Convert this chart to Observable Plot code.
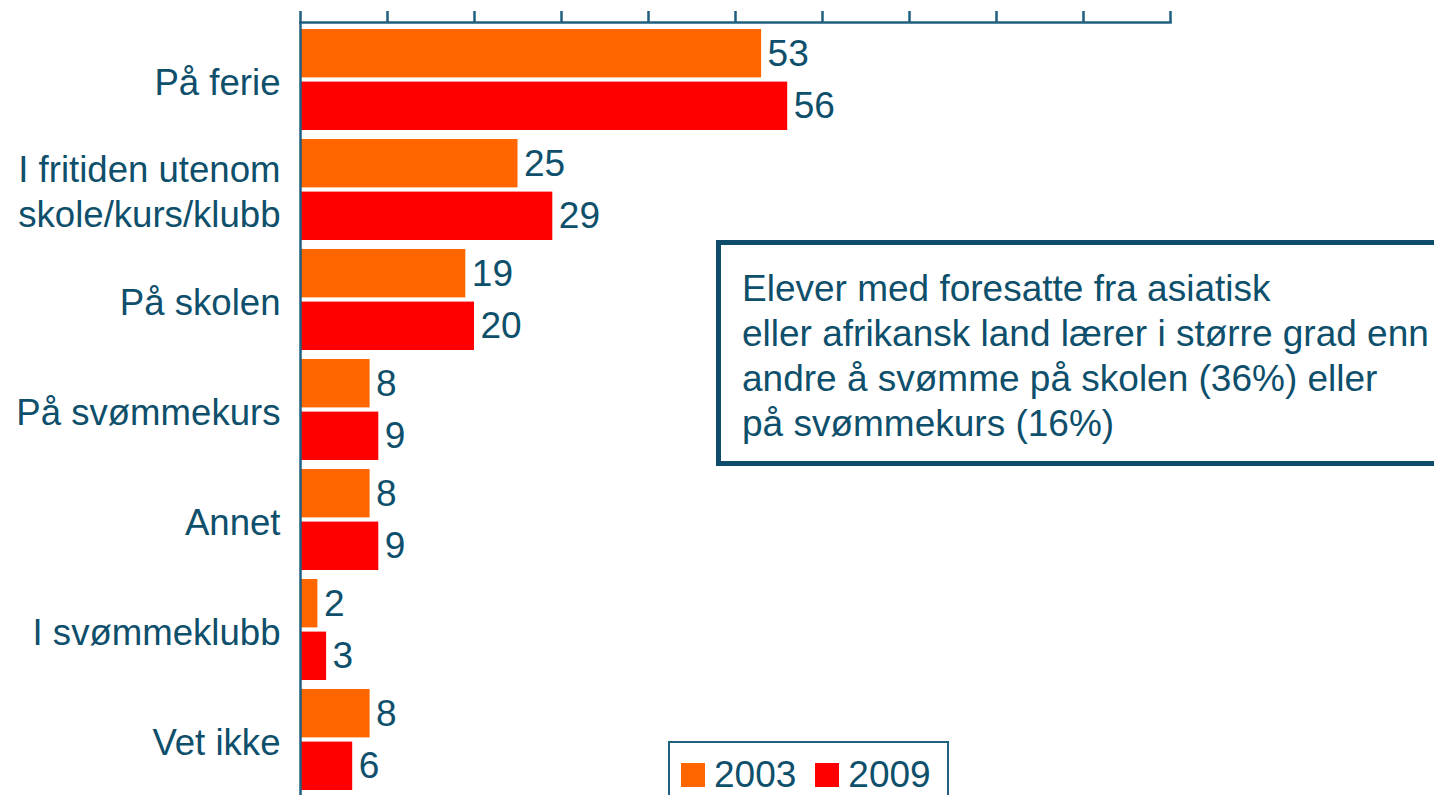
<!DOCTYPE html>
<html>
<head>
<meta charset="utf-8">
<script src="https://cdn.jsdelivr.net/npm/d3@7"></script>
<script src="https://cdn.jsdelivr.net/npm/@observablehq/plot@0.6"></script>
<style>
  html, body { margin: 0; padding: 0; background: #fff; overflow: hidden; }
  body { width: 1434px; height: 795px; position: relative; font-family: "Liberation Sans", Arial, sans-serif; color: #0e4f6b; }
  #chart { position: absolute; left: 0; top: 0; }
  #note { position: absolute; left: 716px; top: 240px; width: 760px; height: 226px; box-sizing: border-box;
          border: 5px solid #0d4d6b; padding: 21px 0 0 21px; font-size: 37px; line-height: 45px; background: #fff; white-space: nowrap; }
  #legend { position: absolute; left: 668px; top: 741px; width: 281px; height: 70px; box-sizing: border-box;
            border: 2px solid #1f5f7f; background: #fff; display: flex; align-items: flex-start; padding: 20px 0 0 11px; font-size: 37px; line-height: 26px; }
  #legend .sw { width: 24px; height: 24px; margin-right: 9px; flex: none; }
  #legend .lb { margin-right: 19px; line-height: 24px; }
</style>
</head>
<body>
<div id="chart"></div>
<div id="note"></div>
<div id="legend"></div>
<script>
// ---- data ----
const categories = ["På ferie", "I fritiden utenom skole/kurs/klubb", "På skolen", "På svømmekurs", "Annet", "I svømmeklubb", "Vet ikke"];
const tickLabels = ["På ferie", "I fritiden utenom\nskole/kurs/klubb", "På skolen", "På svømmekurs", "Annet", "I svømmeklubb", "Vet ikke"];
const years = ["2003", "2009"];
const values2003 = [53, 25, 19, 8, 8, 2, 8];
const values2009 = [56, 29, 20, 9, 9, 3, 6];
const xTicks = [0, 10, 20, 30, 40, 50, 60, 70, 80, 90, 100];
const colors = ["#FF6600", "#FF0000"];
const noteLines = ["Elever med foresatte fra asiatisk", "eller afrikansk land lærer i større grad enn", "andre å svømme på skolen (36%) eller", "på svømmekurs (16%)"];

const rows2003 = categories.map((c, i) => ({category: c, year: years[0], value: values2003[i]}));
const rows2009 = categories.map((c, i) => ({category: c, year: years[1], value: values2009[i]}));

const ink = "#0e4f6b";
const axisInk = "#1f5f7f";

const chart = Plot.plot({
  width: 1434,
  height: 795,
  marginLeft: 300,
  marginRight: 264,
  marginTop: 22,
  marginBottom: 0,
  style: {fontFamily: "'Liberation Sans', Arial, sans-serif", fontSize: "37px", color: ink, background: "transparent"},
  x: {domain: [0, 100]},
  y: {domain: categories, range: [22, 796], paddingInner: 0.083, paddingOuter: 0.045},
  color: {domain: years, range: colors},
  marks: [
    Plot.barX(rows2003, {x: "value", y: "category", fill: "year", insetBottom: 52.6}),
    Plot.barX(rows2009, {x: "value", y: "category", fill: "year", insetTop: 52.6}),
    Plot.text(rows2003, {x: "value", y: "category", text: d => String(d.value), dy: -26.3, dx: 6, textAnchor: "start", fill: ink, fontSize: 37}),
    Plot.text(rows2009, {x: "value", y: "category", text: d => String(d.value), dy: 26.3, dx: 6, textAnchor: "start", fill: ink, fontSize: 37}),
    Plot.ruleX([0], {stroke: axisInk, strokeWidth: 2.5}),
    Plot.frame({anchor: "top", stroke: axisInk, strokeWidth: 2.5}),
    Plot.axisX({anchor: "top", ticks: xTicks, tickSize: 12, tickFormat: () => "", label: null, stroke: axisInk, strokeWidth: 2.5}),
    Plot.axisY({anchor: "left", tickSize: 0, tickPadding: 20, label: null, fontSize: 36.6, lineHeight: 1.24, fill: ink,
                tickFormat: d => tickLabels[categories.indexOf(d)]})
  ]
});
document.getElementById("chart").appendChild(chart);

document.getElementById("note").innerHTML = noteLines.join("<br>");

const legend = document.getElementById("legend");
years.forEach((y, i) => {
  const sw = document.createElement("span");
  sw.className = "sw";
  sw.style.background = colors[i];
  const lb = document.createElement("span");
  lb.className = "lb";
  lb.textContent = y;
  legend.appendChild(sw);
  legend.appendChild(lb);
});
</script>
</body>
</html>
